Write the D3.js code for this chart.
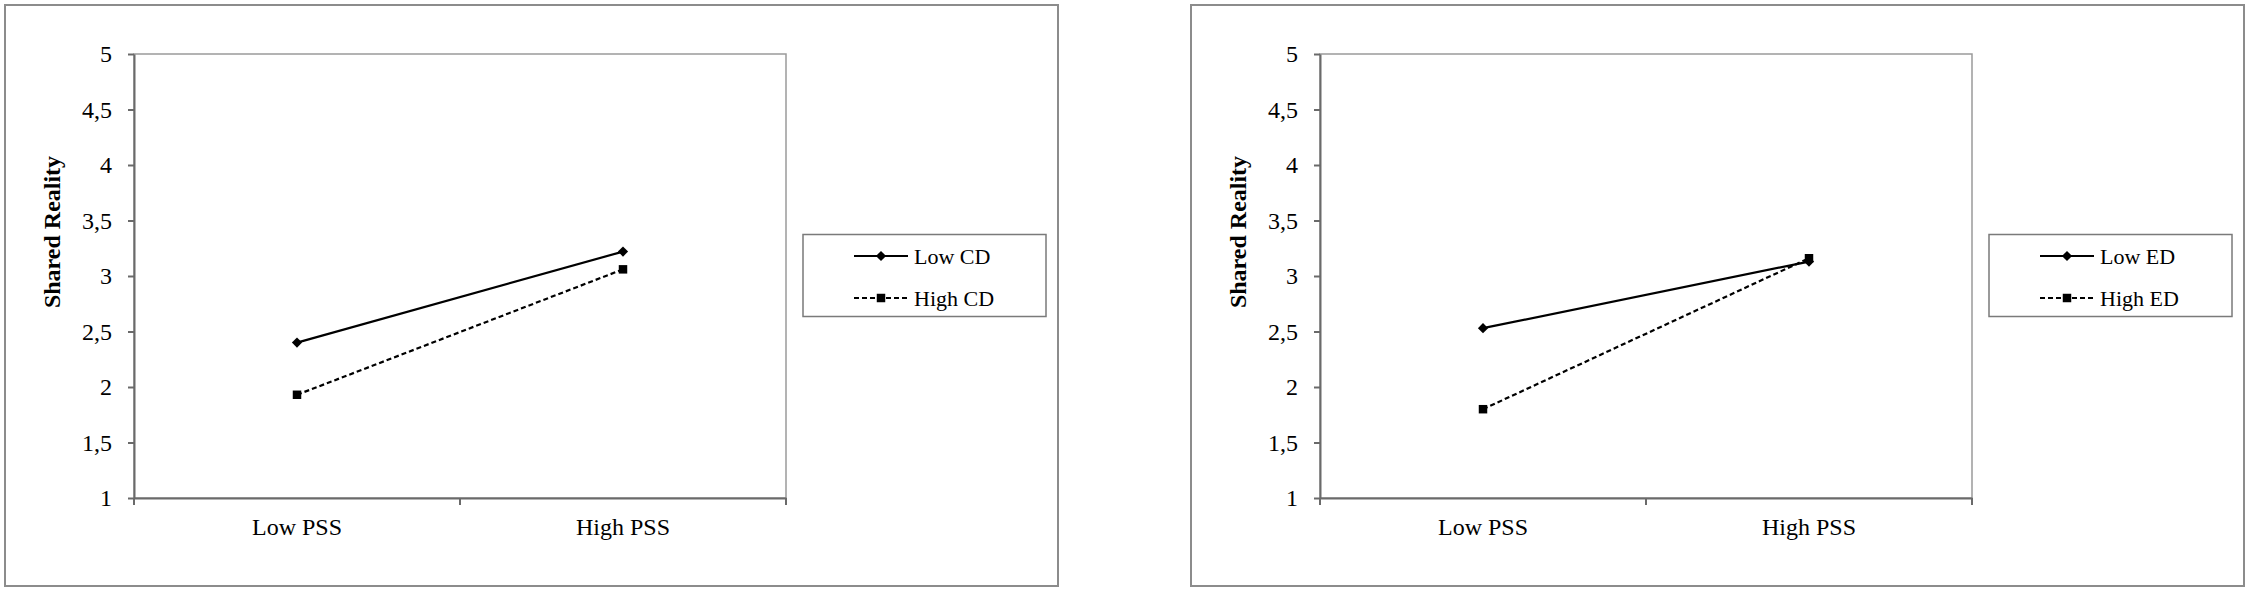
<!DOCTYPE html>
<html>
<head>
<meta charset="utf-8">
<script src="https://cdn.jsdelivr.net/npm/d3@7"></script>
<style>
  html, body { margin: 0; padding: 0; background: #fff; }
  svg { display: block; font-family: "Liberation Serif", "Times New Roman", serif; }
  .axis text { font-size: 24px; fill: #000; font-family: "Liberation Serif", serif; }
  .axis path, .axis line { stroke: #6a6a6a; stroke-width: 2; }
</style>
</head>
<body>
<div id="chart"></div>
<script>
// Two interaction plots: Shared Reality by PSS, moderated by CD (left) and ED (right)
const categories = ["Low PSS", "High PSS"];
const yTickValues = [1, 1.5, 2, 2.5, 3, 3.5, 4, 4.5, 5];

const cdNames = ["Low CD", "High CD"];
const cdLow = [2.40, 3.22];
const cdHigh = [1.93, 3.06];

const edNames = ["Low ED", "High ED"];
const edLow = [2.53, 3.13];
const edHigh = [1.80, 3.16];

const W = 2249, H = 591;
const panelOffsets = [0, 1186];

// plot area inside each panel
const plot = { left: 134, right: 786, top: 54, bottom: 498 };

const x = d3.scaleBand().domain(categories).range([plot.left, plot.right]).padding(0);
const y = d3.scaleLinear().domain([1, 5]).range([plot.bottom, plot.top]);

const lineStyles = [
  { dash: null, symbol: "diamond" },
  { dash: "5,3", symbol: "square" }
];

const svg = d3.select("#chart")
  .append("svg")
  .attr("width", W)
  .attr("height", H);

svg.append("rect")
  .attr("width", W)
  .attr("height", H)
  .attr("fill", "#fff");

function marker(sel, kind, cx, cy) {
  if (kind === "diamond") {
    sel.append("path")
      .attr("d", d3.symbol().type(d3.symbolSquare).size(52)())
      .attr("transform", `translate(${cx},${cy}) rotate(45)`)
      .attr("fill", "#000");
  } else {
    sel.append("path")
      .attr("d", d3.symbol().type(d3.symbolSquare).size(72)())
      .attr("transform", `translate(${cx},${cy})`)
      .attr("fill", "#000");
  }
}

function drawPanel(offset, names, series) {
  const g = svg.append("g").attr("transform", `translate(${offset},0)`);

  // outer chart frame
  g.append("rect")
    .attr("x", 5)
    .attr("y", 5)
    .attr("width", 1053)
    .attr("height", 581)
    .attr("fill", "#fff")
    .attr("stroke", "#8c8c8c")
    .attr("stroke-width", 2);

  // plot area frame
  g.append("rect")
    .attr("x", plot.left)
    .attr("y", plot.top)
    .attr("width", plot.right - plot.left)
    .attr("height", plot.bottom - plot.top)
    .attr("fill", "#fff")
    .attr("stroke", "#9a9a9a")
    .attr("stroke-width", 1.5);

  // y axis
  g.append("g")
    .attr("class", "axis")
    .attr("transform", `translate(${plot.left},0)`)
    .call(d3.axisLeft(y)
      .tickValues(yTickValues)
      .tickSize(6)
      .tickSizeOuter(0)
      .tickPadding(16)
      .tickFormat(d => String(d).replace(".", ",")));

  // x axis: labels at band centres, tick marks at band edges
  const xAxis = g.append("g")
    .attr("class", "axis")
    .attr("transform", `translate(0,${plot.bottom})`)
    .call(d3.axisBottom(x).tickSize(0).tickSizeOuter(0).tickPadding(20));

  const edges = categories.map(c => x(c)).concat([x(categories[categories.length - 1]) + x.bandwidth()]);
  xAxis.selectAll("line.edge")
    .data(edges)
    .enter()
    .append("line")
    .attr("class", "edge")
    .attr("x1", d => d)
    .attr("x2", d => d)
    .attr("y1", 0)
    .attr("y2", 7);

  // axis title
  g.append("text")
    .attr("transform", `translate(52,232) rotate(-90)`)
    .attr("text-anchor", "middle")
    .attr("dominant-baseline", "central")
    .attr("font-size", 24)
    .attr("font-weight", "bold")
    .text("Shared Reality");

  // series
  const line = d3.line()
    .x((d, i) => x(categories[i]) + x.bandwidth() / 2)
    .y(d => y(d));

  series.forEach((vals, si) => {
    const st = lineStyles[si];
    g.append("path")
      .datum(vals)
      .attr("d", line)
      .attr("fill", "none")
      .attr("stroke", "#000")
      .attr("stroke-width", 2.2)
      .attr("stroke-dasharray", st.dash);

    vals.forEach((v, i) => {
      marker(g, st.symbol, x(categories[i]) + x.bandwidth() / 2, y(v));
    });
  });

  // legend
  const lg = g.append("g").attr("class", "legend");
  lg.append("rect")
    .attr("x", 803)
    .attr("y", 234.5)
    .attr("width", 243)
    .attr("height", 82)
    .attr("fill", "#fff")
    .attr("stroke", "#7a7a7a")
    .attr("stroke-width", 1.5);

  names.forEach((name, si) => {
    const st = lineStyles[si];
    const ly = 256 + si * 42;
    lg.append("line")
      .attr("x1", 854)
      .attr("x2", 908)
      .attr("y1", ly)
      .attr("y2", ly)
      .attr("stroke", "#000")
      .attr("stroke-width", 2)
      .attr("stroke-dasharray", st.dash);
    marker(lg, st.symbol, 881, ly);
    lg.append("text")
      .attr("x", 914)
      .attr("y", ly)
      .attr("dy", "0.35em")
      .attr("font-size", 22)
      .text(name);
  });
}

drawPanel(panelOffsets[0], cdNames, [cdLow, cdHigh]);
drawPanel(panelOffsets[1], edNames, [edLow, edHigh]);
</script>
</body>
</html>
